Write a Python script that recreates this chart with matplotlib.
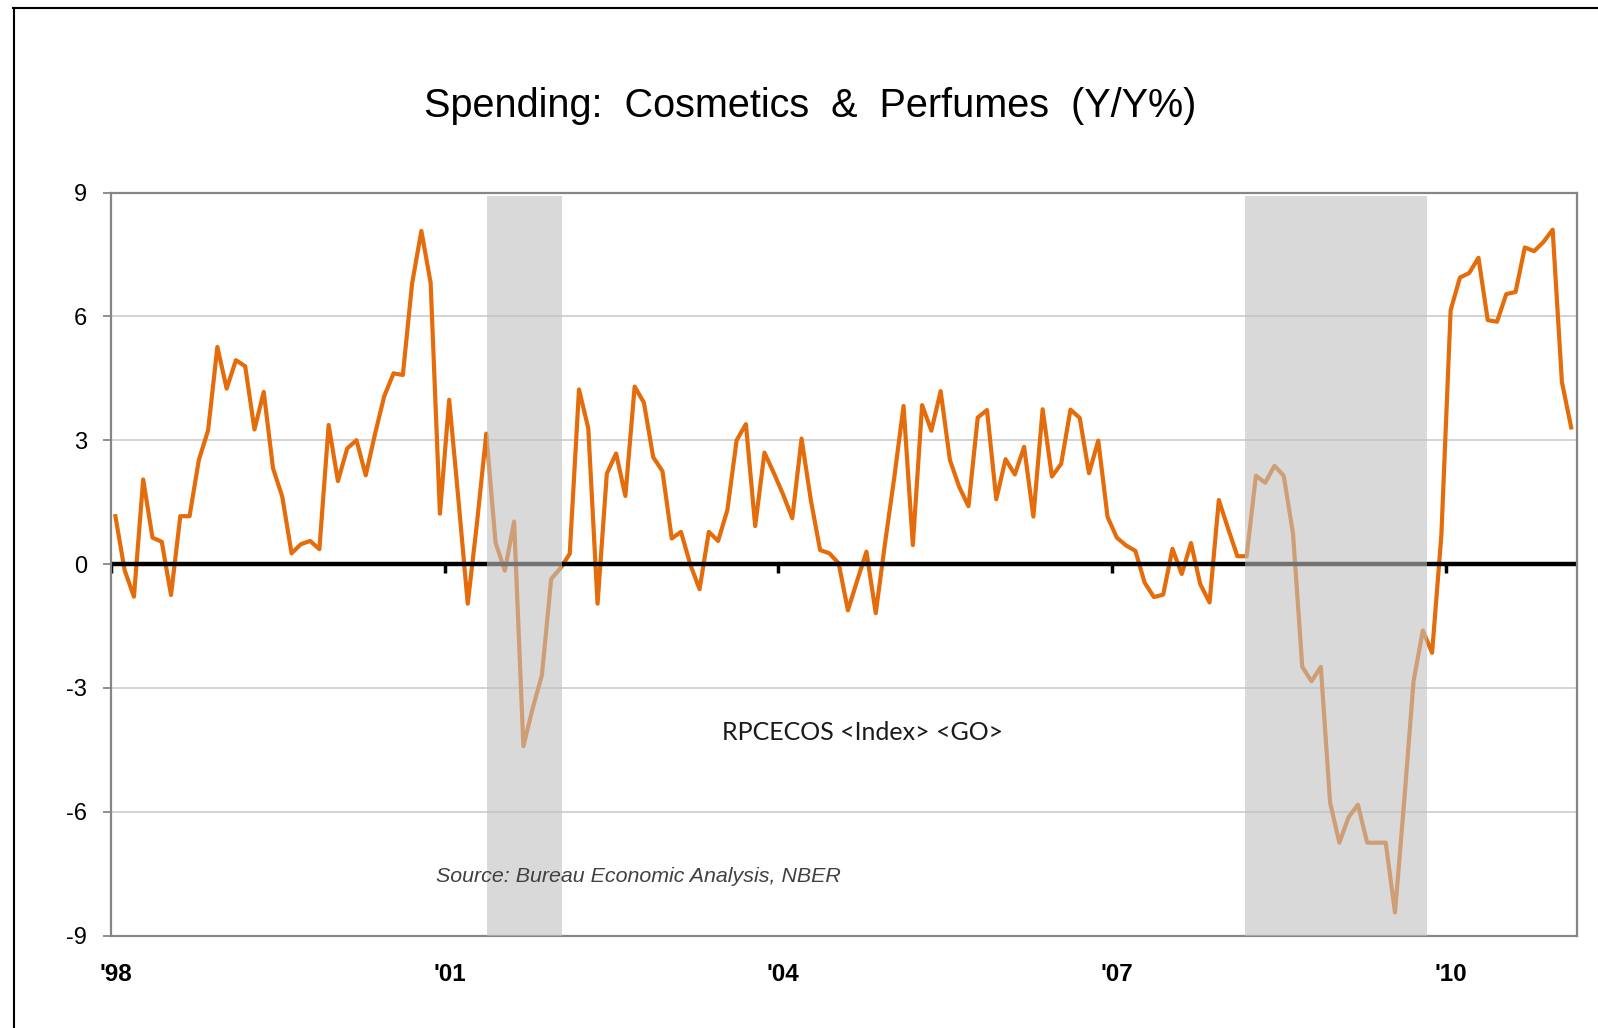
import matplotlib
matplotlib.use("Agg")
import matplotlib.pyplot as plt
from matplotlib.lines import Line2D
from matplotlib.transforms import ScaledTranslation

# Y/Y % change, monthly, Jan 1998 .. Feb 2011
yoy = [
    1.16, -0.15, -0.79, 2.05, 0.64, 0.54, -0.75, 1.16, 1.16, 2.52, 3.24, 5.26,
    4.25, 4.94, 4.79, 3.26, 4.17, 2.32, 1.63, 0.26, 0.48, 0.56, 0.36, 3.37,
    2.01, 2.80, 3.00, 2.15, 3.15, 4.07, 4.62, 4.58, 6.80, 8.07, 6.81, 1.22,
    3.98, 1.55, -0.96, 1.00, 3.16, 0.52, -0.16, 1.03, -4.41, -3.50, -2.69, -0.36,
    -0.10, 0.25, 4.23, 3.29, -0.96, 2.19, 2.68, 1.65, 4.30, 3.91, 2.59, 2.25,
    0.62, 0.78, -0.01, -0.61, 0.78, 0.56, 1.31, 3.00, 3.39, 0.92, 2.70, 2.21,
    1.69, 1.11, 3.04, 1.55, 0.34, 0.26, 0.02, -1.12, -0.40, 0.30, -1.19, 0.50,
    2.10, 3.83, 0.46, 3.85, 3.23, 4.19, 2.52, 1.87, 1.40, 3.55, 3.73, 1.57,
    2.54, 2.17, 2.84, 1.15, 3.75, 2.12, 2.43, 3.74, 3.54, 2.20, 2.99, 1.14,
    0.64, 0.45, 0.32, -0.45, -0.80, -0.74, 0.37, -0.24, 0.51, -0.49, -0.93, 1.55,
    0.86, 0.19, 0.19, 2.14, 1.97, 2.38, 2.14, 0.74, -2.49, -2.84, -2.49, -5.78,
    -6.75, -6.13, -5.83, -6.75, -6.75, -6.75, -8.44, -5.72, -2.84, -1.61, -2.15, 0.70,
    6.15, 6.94, 7.05, 7.42, 5.91, 5.87, 6.54, 6.59, 7.67, 7.58, 7.80, 8.10,
    4.41, 3.31,
]
months = [i + 0.5 for i in range(len(yoy))]  # months since Jan 1998, mid-month

# NBER recessions, in months since Jan 1998 as drawn on the chart
recessions = [(40.6, 48.7), (122.3, 142.0)]

year_ticks = [0, 36, 72, 108, 144]
year_labels = ["'98", "'01", "'04", "'07", "'10"]
y_ticks = [-9, -6, -3, 0, 3, 6, 9]

orange = "#E46C0A"
frame_gray = "#868686"

plt.rcParams["font.family"] = ["Liberation Sans", "DejaVu Sans"]

fig = plt.figure(figsize=(15.98, 10.28), dpi=100)
ax = fig.add_axes([0.0693, 0.0899, 0.9174, 0.7228])

ax.plot(months, yoy, color=orange, lw=3.0, solid_joinstyle="round", zorder=2)

# zero line with its little year ticks
ax.axhline(0, color="black", lw=3.2, zorder=2.5)
ax.vlines(year_ticks, -0.22, 0, color="black", lw=2.5, zorder=2.5)

for lo, hi in recessions:
    ax.axvspan(lo, hi, ymin=0, ymax=0.995, color="#C0C0C0", alpha=0.6, lw=0, zorder=4)

ax.set_xlim(0, 158.1)
ax.set_ylim(-9, 9)
ax.set_yticks(y_ticks)
ax.set_yticklabels([str(v) for v in y_ticks])
ax.set_xticks(year_ticks)
ax.set_xticklabels(year_labels, fontweight="bold")
ax.tick_params(axis="y", labelsize=17, length=6, width=1.3, color=frame_gray, pad=11)
ax.tick_params(axis="x", labelsize=17.5, length=0, pad=20)
# year labels sit a little right of their tick in the original
shift = ScaledTranslation(5 / 100, 0, fig.dpi_scale_trans)
for lab in ax.get_xticklabels():
    lab.set_transform(lab.get_transform() + shift)

for v in y_ticks:
    if v not in (-9, 0, 9):
        ax.axhline(v, color="#C8C8C8", lw=1.1, zorder=1)

for s in ax.spines.values():
    s.set_color(frame_gray)
    s.set_linewidth(1.6)

fig.text(0.507, 1 - 106 / 1028, "Spending:  Cosmetics  &  Perfumes  (Y/Y%)",
         ha="center", va="center", fontsize=28.5)

fig.text(863 / 1598, 1 - 733 / 1028, "RPCECOS <Index> <GO>",
         ha="center", va="center", fontsize=18, family=["Lato", "DejaVu Sans"],
         color="#1a1a1a")
fig.text(436 / 1598, 1 - 877 / 1028, "Source: Bureau Economic Analysis, NBER",
         ha="left", va="center", fontsize=15.4, style="italic", color="#404040",
         zorder=3)

# outer frame (top and left edges only are visible)
fig.add_artist(Line2D([13 / 1598, 1], [1 - 8 / 1028] * 2, color="black", lw=1.5,
                      transform=fig.transFigure))
fig.add_artist(Line2D([13.5 / 1598] * 2, [0, 1 - 8 / 1028], color="black", lw=1.5,
                      transform=fig.transFigure))

fig.savefig("out.png", dpi=100, facecolor="white")
